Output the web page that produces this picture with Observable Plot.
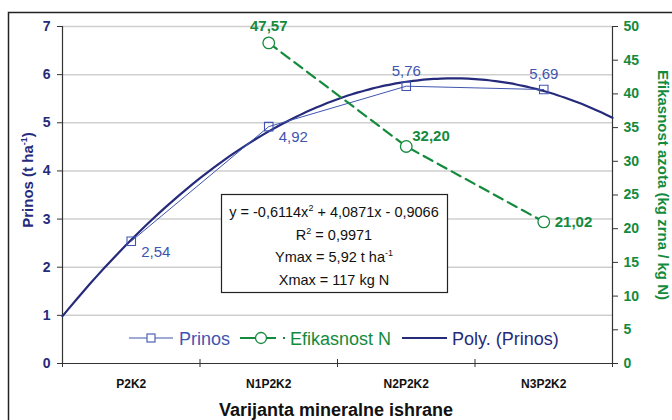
<!DOCTYPE html>
<html><head><meta charset="utf-8">
<script src="https://cdn.jsdelivr.net/npm/d3@7"></script>
<script src="https://cdn.jsdelivr.net/npm/@observablehq/plot@0.6"></script>
<style>
body{margin:0;background:#fff;font-family:"Liberation Sans",Arial,sans-serif}
#chart{position:relative;width:672px;height:420px;overflow:hidden}
</style>
</head><body><div id="chart"></div>
<script>
// ---- data ----
const categories = ["P2K2", "N1P2K2", "N2P2K2", "N3P2K2"];
const prinos = [2.54, 4.92, 5.76, 5.69];
const prinosLabels = ["2,54", "4,92", "5,76", "5,69"];
const efikasnostCats = ["N1P2K2", "N2P2K2", "N3P2K2"];
const efikasnost = [47.57, 32.20, 21.02];
const efikasnostLabels = ["47,57", "32,20", "21,02"];
const polyCoef = [-0.6114, 4.0871, -0.9066]; // trendline shown on the chart
const leftTicks = [0, 1, 2, 3, 4, 5, 6, 7];
const rightTicks = [0, 5, 10, 15, 20, 25, 30, 35, 40, 45, 50];
const leftMax = 7, rightMax = 50;

// ---- colours ----
const navy = "#262a7a", blue = "#3f55b0", green = "#148a3c", axisCol = "#333";

const catIndex = c => categories.indexOf(c) + 1;
const prinosData = categories.map((c, i) => ({x: i + 1, y: prinos[i], label: prinosLabels[i]}));
const efData = efikasnostCats.map((c, i) => ({x: catIndex(c), y: efikasnost[i] * leftMax / rightMax, label: efikasnostLabels[i]}));
const polyData = d3.range(0.5, 4.5001, 0.05).map(x => ({x, y: polyCoef[0] * x * x + polyCoef[1] * x + polyCoef[2]}));
const bounds = d3.range(0.5, categories.length + 0.51, 1);

const W = 672, H = 420;
const plot = Plot.plot({
  width: W, height: H,
  marginLeft: 62, marginRight: 60, marginTop: 26, marginBottom: 57,
  style: {fontFamily: '"Liberation Sans", Arial, sans-serif', background: "transparent", overflow: "visible"},
  x: {domain: [0.5, categories.length + 0.5], axis: null},
  y: {domain: [0, leftMax], axis: null},
  marks: [
    Plot.gridY(leftTicks.slice(1), {stroke: "#cfcfcf", strokeOpacity: 1, strokeWidth: 1.5}),
    Plot.ruleX([0.5, categories.length + 0.5], {stroke: axisCol, strokeWidth: 1.2}),
    Plot.ruleY([0], {stroke: axisCol, strokeWidth: 1.2}),
    // left axis
    Plot.axisY(leftTicks, {anchor: "left", tickSize: 5, tickPadding: 7, stroke: axisCol, fill: navy, color: navy,
      fontSize: 14, fontWeight: "bold", label: null}),
    // right axis (efficiency scale)
    Plot.axisY(rightTicks.map(v => v * leftMax / rightMax), {anchor: "right", tickSize: 5, tickPadding: 6,
      stroke: axisCol, fill: green, color: green, fontSize: 14, fontWeight: "bold", label: null,
      tickFormat: d => String(Math.round(d * rightMax / leftMax))}),
    // x tick marks at category boundaries
    Plot.axisX(bounds, {anchor: "bottom", tickSize: 8, dy: -4, stroke: axisCol, tickFormat: () => "", label: null}),
    // category labels
    Plot.axisX(categories.map((c, i) => i + 1), {anchor: "bottom", tickSize: 0, tickPadding: 16, fill: "#111", color: "#111",
      fontSize: 12, fontWeight: "bold", tickFormat: d => categories[d - 1], label: null}),
    // polynomial trend
    Plot.line(polyData, {x: "x", y: "y", stroke: navy, strokeWidth: 2.2, curve: "natural"}),
    // prinos
    Plot.line(prinosData, {x: "x", y: "y", stroke: blue, strokeWidth: 1}),
    Plot.dot(prinosData, {x: "x", y: "y", symbol: "square", r: 4.8, stroke: blue, strokeWidth: 1.1, fill: "none"}),
    // efikasnost
    Plot.line(efData, {x: "x", y: "y", stroke: green, strokeWidth: 2.2, strokeDasharray: "10,6"}),
    Plot.dot(efData, {x: "x", y: "y", symbol: "circle", r: 5.8, stroke: green, strokeWidth: 1.3, fill: "white"}),
    // data labels
    Plot.text(prinosData.slice(0, 2), {x: "x", y: "y", text: "label", dx: 10, dy: 11, textAnchor: "start", fill: blue, fontSize: 15}),
    Plot.text(prinosData.slice(2), {x: "x", y: "y", text: "label", dy: -15, fill: blue, fontSize: 15}),
    Plot.text(efData.slice(0, 1), {x: "x", y: "y", text: "label", dy: -17, fill: green, fontSize: 15, fontWeight: "bold"}),
    Plot.text(efData.slice(1, 2), {x: "x", y: "y", text: "label", dx: 6, dy: -10, textAnchor: "start", fill: green, fontSize: 15, fontWeight: "bold"}),
    Plot.text(efData.slice(2), {x: "x", y: "y", text: "label", dx: 11, dy: 0, textAnchor: "start", fill: green, fontSize: 15, fontWeight: "bold"})
  ]
});
document.getElementById("chart").appendChild(plot);

const svg = d3.select(plot);
const font = '"Liberation Sans", Arial, sans-serif';

// outer chart-area border
svg.append("path").attr("d", `M8.5,${H + 10}V12.5H${W + 10}`).attr("fill", "none").attr("stroke", "#222").attr("stroke-width", 1.5);

// axis titles
const lt = svg.append("text").attr("transform", "translate(33,180) rotate(-90)").attr("text-anchor", "middle")
  .attr("font-family", font).attr("font-size", 15).attr("font-weight", "bold").attr("fill", navy);
lt.append("tspan").text("Prinos (t ha");
lt.append("tspan").attr("font-size", 9).attr("dy", -6).text("-1");
lt.append("tspan").attr("dy", 6).text(")");

svg.append("text").attr("transform", "translate(658,185) rotate(90)").attr("text-anchor", "middle")
  .attr("font-family", font).attr("font-size", 15).attr("font-weight", "bold").attr("fill", green)
  .text("Efikasnost azota (kg zrna / kg N)");

svg.append("text").attr("x", 336).attr("y", 416).attr("text-anchor", "middle")
  .attr("font-family", font).attr("font-size", 18).attr("font-weight", "bold").attr("fill", "#111")
  .text("Varijanta mineralne ishrane");

// equation box
const bx = 221, by = 194, bw = 226, bh = 98;
svg.append("rect").attr("x", bx + 0.5).attr("y", by + 0.5).attr("width", bw).attr("height", bh)
  .attr("fill", "white").attr("stroke", "#222").attr("stroke-width", 1.2);
const eq = [
  [["y = -0,6114x", 0], ["2", 1], [" + 4,0871x - 0,9066", 0]],
  [["R", 0], ["2", 1], [" = 0,9971", 0]],
  [["Ymax = 5,92 t ha", 0], ["-1", 1]],
  [["Xmax = 117 kg N", 0]]
];
const baselines = [217, 240, 262, 285];
eq.forEach((parts, i) => {
  const t = svg.append("text").attr("x", bx + bw / 2).attr("y", baselines[i]).attr("text-anchor", "middle")
    .attr("font-family", font).attr("font-size", 14.5).attr("fill", "#111");
  let up = false;
  parts.forEach(([s, sup]) => {
    const ts = t.append("tspan").text(s);
    if (sup && !up) { ts.attr("font-size", 9).attr("dy", -6); up = true; }
    else if (!sup && up) { ts.attr("dy", 6); up = false; }
  });
});

// legend
const ly = 338;
const lg = svg.append("g").attr("font-family", font).attr("font-size", 18).attr("text-anchor", "start");
lg.append("line").attr("x1", 129).attr("x2", 173).attr("y1", ly).attr("y2", ly).attr("stroke", blue).attr("stroke-width", 1);
lg.append("rect").attr("x", 147).attr("y", ly - 4).attr("width", 8).attr("height", 8).attr("fill", "white").attr("stroke", blue).attr("stroke-width", 1.1);
lg.append("text").attr("x", 179).attr("y", ly + 6.5).attr("text-anchor", "start").attr("fill", blue).text("Prinos");
lg.append("line").attr("x1", 240).attr("x2", 286).attr("y1", ly).attr("y2", ly).attr("stroke", green).attr("stroke-width", 2.2).attr("stroke-dasharray", "36,7,2");
lg.append("circle").attr("cx", 261).attr("cy", ly).attr("r", 5.5).attr("fill", "white").attr("stroke", green).attr("stroke-width", 1.3);
lg.append("text").attr("x", 290).attr("y", ly + 6.5).attr("text-anchor", "start").attr("fill", green).text("Efikasnost N");
lg.append("line").attr("x1", 402).attr("x2", 447).attr("y1", ly).attr("y2", ly).attr("stroke", navy).attr("stroke-width", 2.2);
lg.append("text").attr("x", 452).attr("y", ly + 6.5).attr("text-anchor", "start").attr("fill", navy).text("Poly. (Prinos)");
</script>
</body></html>
